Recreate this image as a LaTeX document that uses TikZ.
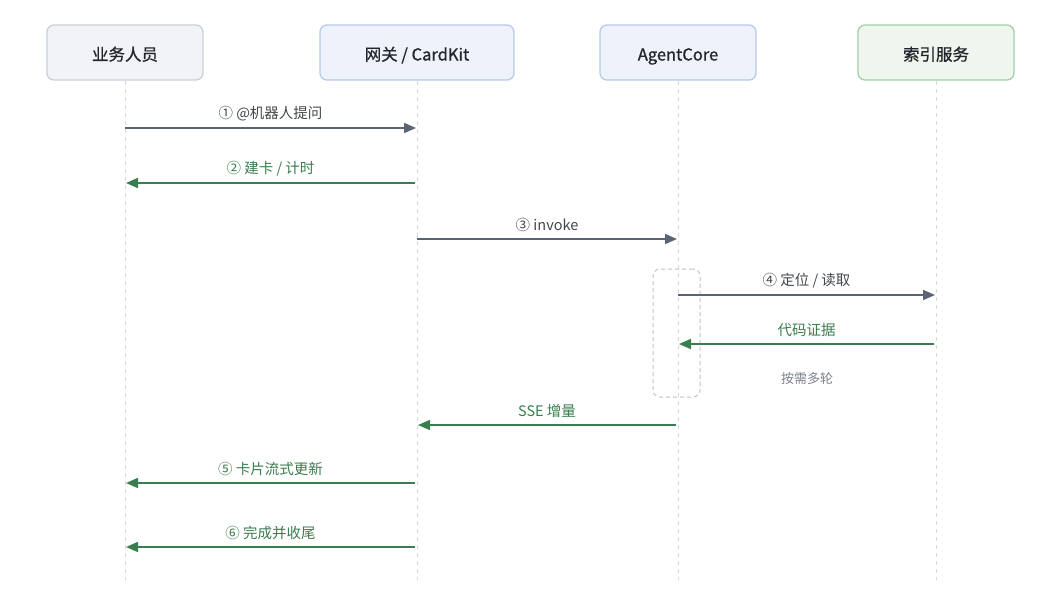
\documentclass[tikz,border=0pt]{standalone}
\usepackage{fontspec}
\setmainfont{Noto Sans CJK SC}
\newfontfamily\hdrfont[FakeBold=0.9]{Noto Sans CJK SC}
\usetikzlibrary{arrows.meta}
\definecolor{gborder}{HTML}{CAD0DB}
\definecolor{gfill}{HTML}{F1F3F7}
\definecolor{bborder}{HTML}{BACAEA}
\definecolor{bfill}{HTML}{EDF2FB}
\definecolor{nborder}{HTML}{A2CFA6}
\definecolor{nfill}{HTML}{EEF6EE}
\definecolor{lifec}{HTML}{D5D8DD}
\definecolor{reqc}{HTML}{5B6475}
\definecolor{resc}{HTML}{3A7D4E}
\definecolor{textc}{HTML}{22262C}
\definecolor{notec}{HTML}{7A808A}
\tikzset{
  x=1pt, y=-1pt,
  actor/.style={draw, line width=1.3pt, rounded corners=7pt, minimum width=156pt, minimum height=55pt, text height=19pt, text depth=3pt, font=\hdrfont\fontsize{16.5}{19}\selectfont, text=textc},
  lifeline/.style={draw=lifec, line width=1pt, dash pattern=on 4pt off 4pt},
  req/.style={draw=reqc, line width=1.6pt, -{Triangle[length=12pt,width=10pt]}},
  res/.style={draw=resc, line width=1.6pt, -{Triangle[length=12pt,width=10pt]}},
  reqlabel/.style={font=\fontsize{14.5}{17}\selectfont, text=textc!85!white},
  reslabel/.style={font=\fontsize{14.5}{17}\selectfont, text=resc},
}
\begin{document}
\begin{tikzpicture}
\useasboundingbox (0,0) rectangle (1056,600);
\node[actor, draw=gborder, fill=gfill] (A) at (125,52.5) {业务人员};
\node[actor, draw=bborder, fill=bfill, minimum width=194pt] (B) at (417,52.5) {网关 / CardKit};
\node[actor, draw=bborder, fill=bfill] (C) at (678,52.5) {AgentCore};
\node[actor, draw=nborder, fill=nfill] (D) at (936,52.5) {索引服务};
\coordinate (Aend) at (125,580);
\coordinate (Bend) at (417,580);
\coordinate (Cend) at (678,580);
\coordinate (Dend) at (936,580);
\draw[lifeline] (A.south) -- (Aend);
\draw[lifeline] (B.south) -- (Bend);
\draw[lifeline] (C.south) -- (Cend);
\draw[lifeline] (D.south) -- (Dend);
% loop box
\node[draw=lifec!90!black, line width=1pt, dash pattern=on 4pt off 3pt, rounded corners=7pt, minimum width=47pt, minimum height=128pt, inner sep=0pt] (loop) at (676.5,333) {};
% message 1
\coordinate (m1a) at (125,128); \coordinate (m1b) at (416,128);
\draw[req] (m1a) -- (m1b) node[midway, above=3pt, reqlabel] (l1) {① @机器人提问};
% message 2
\coordinate (m2a) at (415,183); \coordinate (m2b) at (126,183);
\draw[res] (m2a) -- (m2b) node[midway, above=3pt, reslabel] (l2) {② 建卡 / 计时};
% message 3
\coordinate (m3a) at (417,239); \coordinate (m3b) at (677,239);
\draw[req] (m3a) -- (m3b) node[midway, above=3pt, reqlabel] (l3) {③ invoke};
% message 4
\coordinate (m4a) at (678,295); \coordinate (m4b) at (935,295);
\draw[req] (m4a) -- (m4b) node[midway, above=3pt, reqlabel] (l4) {④ 定位 / 读取};
% evidence
\coordinate (m5a) at (934,344); \coordinate (m5b) at (679,344);
\draw[res] (m5a) -- (m5b) node[midway, above=3pt, reslabel] (l5) {代码证据};
\node[font=\fontsize{13}{15}\selectfont, text=notec] (note) at (807,379) {按需多轮};
% SSE
\coordinate (m6a) at (676,425); \coordinate (m6b) at (418,425);
\draw[res] (m6a) -- (m6b) node[midway, above=3pt, reslabel] (l6) {SSE 增量};
% message 5
\coordinate (m7a) at (415,483); \coordinate (m7b) at (126,483);
\draw[res] (m7a) -- (m7b) node[midway, above=3pt, reslabel] (l7) {⑤ 卡片流式更新};
% message 6
\coordinate (m8a) at (415,547); \coordinate (m8b) at (126,547);
\draw[res] (m8a) -- (m8b) node[midway, above=3pt, reslabel] (l8) {⑥ 完成并收尾};
\end{tikzpicture}
\end{document}
